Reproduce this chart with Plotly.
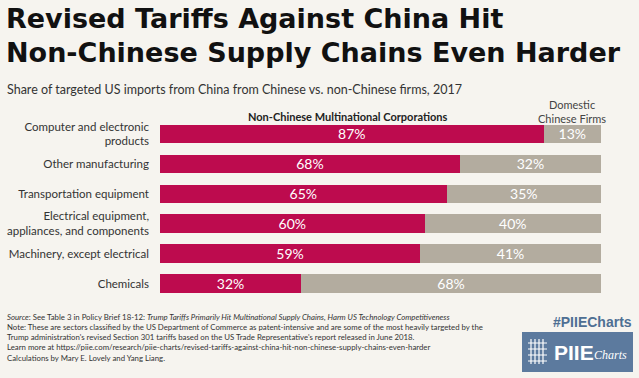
import plotly.graph_objects as go

categories = ["Computer and electronic<br>products", "Other manufacturing", "Transportation equipment",
              "Electrical equipment,<br>appliances, and components", "Machinery, except electrical", "Chemicals"]
non_chinese = [87, 68, 65, 60, 59, 32]
domestic = [13, 32, 35, 40, 41, 68]

footer_lines = [
    "<i>Source</i>: See Table 3 in Policy Brief 18-12: <i>Trump Tariffs Primarily Hit Multinational Supply Chains, Harm US Technology Competitiveness</i>",
    "Note: These are sectors classified by the US Department of Commerce as patent-intensive and are some of the most heavily targeted by the",
    "Trump administration's revised Section 301 tariffs based on the US Trade Representative's report released in June 2018.",
    "Learn more at https://piie.com/research/piie-charts/revised-tariffs-against-china-hit-non-chinese-supply-chains-even-harder",
    "Calculations by Mary E. Lovely and Yang Liang.",
]

W, H = 639, 378
CRIMSON = "#BD0B4E"
GREY = "#B3AC9F"
BG = "#F6F4EF"

def px(x):
    return x / W

def py(y):
    return 1 - y / H

fig = go.Figure()
fig.add_trace(go.Bar(
    y=categories, x=non_chinese, orientation="h", name="Non-Chinese Multinational Corporations",
    marker=dict(color=CRIMSON, line=dict(width=0)), width=0.62,
    text=[f"{v}%" for v in non_chinese], textposition="inside", insidetextanchor="middle",
    textfont=dict(color="white", size=14, family="Lato, Arial"), constraintext="none",
    hoverinfo="skip"))
fig.add_trace(go.Bar(
    y=categories, x=domestic, orientation="h", name="Domestic Chinese Firms",
    marker=dict(color=GREY, line=dict(width=0)), width=0.62,
    text=[f"{v}%" for v in domestic], textposition="inside", insidetextanchor="middle",
    textfont=dict(color="white", size=14, family="Lato, Arial"), constraintext="none",
    hoverinfo="skip"))

fig.update_layout(
    width=W, height=H, barmode="stack", showlegend=False,
    paper_bgcolor=BG, plot_bgcolor=BG,
    margin=dict(l=0, r=0, t=0, b=0),
    xaxis=dict(domain=[px(160), px(601)], range=[0, 100], visible=False, fixedrange=True),
    yaxis=dict(domain=[py(298.5), py(119)], autorange="reversed", showgrid=False, zeroline=False,
               showline=False, ticks="", ticklabelstandoff=10,
               tickfont=dict(size=11.5, color="#333333", family="Lato, Arial"), fixedrange=True),
    font=dict(family="Lato, Arial"),
)

def ann(**kw):
    d = dict(xref="paper", yref="paper", showarrow=False)
    d.update(kw)
    return d

TITLE_FONT = dict(size=27, color="#111111", family="DejaVu Sans, Arial", weight="bold")
annotations = [
    ann(text="Revised Tariffs Against China Hit", x=px(4), y=py(19), xanchor="left", yanchor="middle",
        font=TITLE_FONT),
    ann(text="Non-Chinese Supply Chains Even Harder", x=px(4), y=py(52), xanchor="left", yanchor="middle",
        font=TITLE_FONT),
    ann(text="Share of targeted US imports from China from Chinese vs. non-Chinese firms, 2017",
        x=px(5), y=py(89), xanchor="left", yanchor="middle",
        font=dict(size=12.5, color="#333333", family="Lato, Arial")),
    ann(text="<b>Non-Chinese Multinational Corporations</b>", x=px(348), y=py(116), xanchor="center",
        yanchor="middle", font=dict(size=11, color="#222222", family="Lato, Arial")),
    ann(text="Domestic<br>Chinese Firms", x=px(572), y=py(111), xanchor="center", yanchor="middle",
        align="center", font=dict(size=11, color="#444444", family="Lato, Arial")),
    ann(text="<b>#PIIECharts</b>", x=px(634), y=py(322), xanchor="right", yanchor="middle",
        font=dict(size=14, color="#4E6F93", family="Liberation Sans, Arial")),
    ann(text="<b>PIIE</b>", x=px(552), y=py(352), xanchor="left", yanchor="middle",
        font=dict(size=21, color="white", family="Liberation Sans, Arial")),
    ann(text="<i>Charts</i>", x=px(592), y=py(355), xanchor="left", yanchor="middle",
        font=dict(size=12, color="white", family="Liberation Serif, serif")),
    ann(text="<br>".join(footer_lines), x=px(5), y=py(337), xanchor="left", yanchor="middle", align="left",
        font=dict(size=7.8, color="#333333", family="Lato, Arial")),
]
fig.update_layout(annotations=annotations)

shapes = [
    dict(type="rect", xref="paper", yref="paper", x0=px(522), x1=px(633), y0=py(372), y1=py(332),
         fillcolor="#5C7A9E", line=dict(width=0), layer="below"),
]
for i in range(4):
    shapes.append(dict(type="line", xref="paper", yref="paper", x0=px(531 + i * 4), x1=px(531 + i * 4),
                       y0=py(364), y1=py(339), line=dict(color="white", width=1.2)))
for j in range(4):
    shapes.append(dict(type="line", xref="paper", yref="paper", x0=px(528), x1=px(547),
                       y0=py(343 + j * 6), y1=py(343 + j * 6), line=dict(color="white", width=1)))
fig.update_layout(shapes=shapes)

fig.write_html("out.html", config={"displayModeBar": False},
               post_script="document.body.style.margin='0';document.body.style.padding='0';")
